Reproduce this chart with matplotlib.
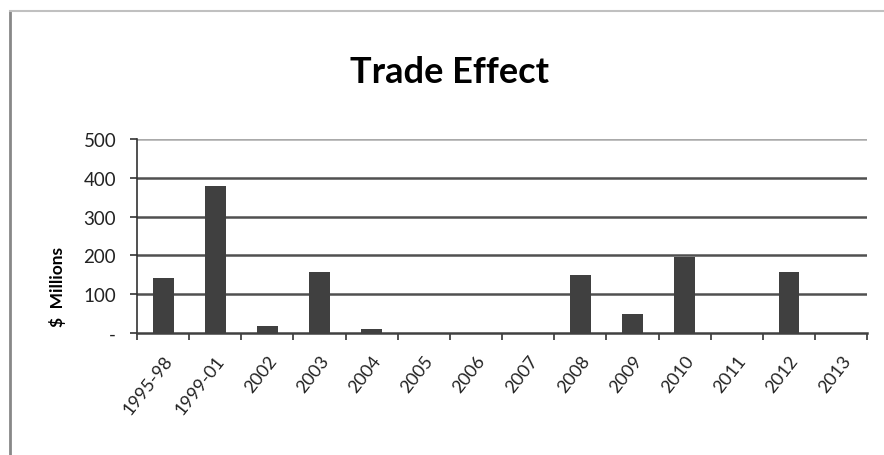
import numpy as np
import matplotlib
matplotlib.use("Agg")
from matplotlib import pyplot as plt
from matplotlib.lines import Line2D

categories = ["1995-98", "1999-01", "2002", "2003", "2004", "2005", "2006",
              "2007", "2008", "2009", "2010", "2011", "2012", "2013"]
values = [142, 380, 19, 156, 11, 0, 0, 0, 149, 48, 197, 0, 156, 0]
yticks = [0, 100, 200, 300, 400, 500]
ytick_labels = ["-", "100", "200", "300", "400", "500"]

plt.rcParams['font.family'] = ['Lato', 'DejaVu Sans']

fig = plt.figure(figsize=(8.84, 4.56), dpi=100)
ax = fig.add_axes([0.155, 0.2675, 0.826, 0.4254])

x = np.arange(len(categories))
ax.bar(x, values, width=0.4, color="#404040", zorder=3)

ax.set_xlim(-0.5, len(categories) - 0.5)
ax.set_ylim(0, 500)
ax.set_yticks(yticks)
ax.set_yticklabels(ytick_labels, fontsize=13.5, color="#222222")
for y in yticks[1:-1]:
    ax.axhline(y, color="#505050", lw=1.8, zorder=1)
ax.axhline(500, color="#aaaaaa", lw=1.8, zorder=1)

ax.set_xticks(x)
ax.set_xticklabels(categories, rotation=52, ha="right", rotation_mode="anchor",
                   fontsize=13, color="#222222")
ax.set_xticks(np.arange(len(categories) + 1) - 0.5, minor=True)
ax.tick_params(axis="x", which="major", length=0, pad=14)
ax.tick_params(axis="x", which="minor", length=5, width=1.2, color="#333333")
ax.tick_params(axis="y", length=5, width=1.2, color="#333333", pad=10)

for side in ["top", "right"]:
    ax.spines[side].set_visible(False)
ax.spines["left"].set_color("#333333")
ax.spines["left"].set_linewidth(1.2)
ax.spines["bottom"].set_color("#404040")
ax.spines["bottom"].set_linewidth(1.8)

ax.set_ylabel("$  Millions", fontsize=12.5, fontweight="bold")
ax.yaxis.set_label_coords(-0.097, 0.24)
fig.text(0.509, 0.84, "Trade Effect", fontsize=26, fontweight="bold",
         ha="center", va="center")

# outer frame like the pasted chart
fig.add_artist(Line2D([0.011, 0.011], [0.0, 0.974], color="#888888", lw=2,
                      transform=fig.transFigure))
fig.add_artist(Line2D([0.011, 1.0], [0.974, 0.974], color="#c0c0c0", lw=1.5,
                      transform=fig.transFigure))

fig.savefig("out.png", dpi=100)
